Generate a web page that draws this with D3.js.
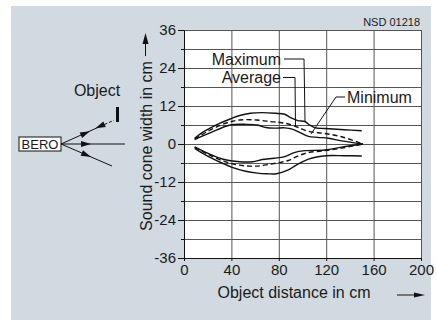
<!DOCTYPE html>
<html>
<head>
<meta charset="utf-8">
<script src="https://cdn.jsdelivr.net/npm/d3@7"></script>
<style>
  body { margin: 0; background: #fff; }
  svg text { font-family: Arial, "Liberation Sans", sans-serif; fill: #1a1a1a; }
</style>
</head>
<body>
<div id="chart"></div>
<script>
//DATA (distance in cm, cone half width in cm)
let maxUpper = [[9,1.8],[15,3.5],[22,5.0],[30,6.5],[39,7.9],[47,9.0],[56,9.7],[66,9.9],[77,9.7],[85,9.4],[90,8.3],[96,7.4],[102,7.1],[106,6.0],[111,5.1],[119,4.9],[135,4.5],[150,4.2]];
let avgUpper = [[9,1.6],[20,4.0],[30,5.8],[39,7.0],[47,7.6],[61,7.6],[72,7.1],[81,6.8],[88,6.3],[96,5.3],[105,4.0],[119,3.3],[133,2.3],[151,0]];
let minUpper = [[9,1.4],[22,3.5],[39,6.0],[53,6.2],[62,6.0],[69,5.2],[77,5.0],[85,5.1],[92,4.6],[99,3.4],[105,2.4],[113,2.1],[122,1.8],[133,1.0],[151,0]];
let maxLower = [[9,-1.4],[15,-2.8],[22,-4.2],[32,-6.0],[40,-7.3],[52,-8.6],[62,-9.2],[70,-9.4],[78,-9.4],[88,-8.2],[94,-6.8],[99,-5.8],[105,-4.8],[112,-4.1],[120,-3.7],[135,-3.7],[150,-3.8]];
let avgLower = [[9,-1.0],[20,-3.2],[33,-5.4],[45,-6.6],[56,-7.0],[64,-6.9],[72,-6.4],[80,-5.9],[88,-5.2],[96,-3.8],[105,-2.7],[119,-2.1],[133,-1.3],[151,0]];
let minLower = [[9,-0.9],[20,-2.9],[33,-4.8],[47,-5.6],[58,-5.6],[66,-4.9],[76,-4.5],[85,-4.0],[93,-2.7],[102,-2.1],[119,-1.9],[133,-1.0],[151,0]];

let xTicks = [0, 40, 80, 120, 160, 200];
let yTicks = [-36, -24, -12, 0, 12, 24, 36];
let yMinor = [-30, -18, -6, 6, 18, 30];

//GENERAL VARIABLES
let w = 437;
let h = 320;
let plotLeft = 184, plotRight = 421, plotTop = 30, plotBottom = 258;
let black = "#111";
let gridColor = "#555";

let svg = d3.select("#chart").append("svg")
    .attr("width", w)
    .attr("height", h);

//BACKGROUND PANEL
svg.append("rect")
    .attr("x", 11).attr("y", 6)
    .attr("width", 420).attr("height", 314)
    .attr("fill", "#d1dae0");

//SCALES
let x = d3.scaleLinear().domain([0, 200]).range([plotLeft, plotRight]);
let y = d3.scaleLinear().domain([-36, 36]).range([plotBottom, plotTop]);

//PLOT AREA
svg.append("rect")
    .attr("x", plotLeft).attr("y", plotTop)
    .attr("width", plotRight - plotLeft).attr("height", plotBottom - plotTop)
    .attr("fill", "#fff");

//GRID
svg.append("g")
    .attr("transform", "translate(" + plotLeft + ",0)")
    .call(d3.axisLeft(y).tickValues(yTicks.concat(yMinor)).tickSize(-(plotRight - plotLeft)).tickFormat(""))
    .call(g => g.select(".domain").remove())
    .call(g => g.selectAll("line").attr("stroke", gridColor).attr("stroke-width", 1));

svg.append("g")
    .attr("transform", "translate(0," + plotBottom + ")")
    .call(d3.axisBottom(x).tickValues(xTicks).tickSize(-(plotBottom - plotTop)).tickFormat(""))
    .call(g => g.select(".domain").remove())
    .call(g => g.selectAll("line").attr("stroke", gridColor).attr("stroke-width", 1));

//AXES (plain hyphen for negatives, like the original)
let yAxis = svg.append("g")
    .attr("transform", "translate(" + plotLeft + ",0)")
    .call(d3.axisLeft(y).tickValues(yTicks).tickSize(6).tickSizeOuter(0).tickPadding(2)
      .tickFormat(d => String(d)));
yAxis.select(".domain").attr("stroke", black);
yAxis.selectAll("line").attr("stroke", black);
yAxis.selectAll("text")
    .attr("font-size", 15)
    .attr("fill", "#1a1a1a");

svg.append("g")
    .attr("transform", "translate(" + plotLeft + ",0)")
    .call(d3.axisLeft(y).tickValues(yMinor).tickSize(3).tickFormat(""))
    .call(g => g.select(".domain").remove())
    .call(g => g.selectAll("line").attr("stroke", black));

let xAxis = svg.append("g")
    .attr("transform", "translate(0," + plotBottom + ")")
    .call(d3.axisBottom(x).tickValues(xTicks).tickSize(3).tickSizeOuter(0).tickPadding(3)
      .tickFormat(d => String(d)));
xAxis.select(".domain").attr("stroke", black);
xAxis.selectAll("line").attr("stroke", black);
xAxis.selectAll("text")
    .attr("font-size", 15)
    .attr("fill", "#1a1a1a");

//CURVES
let line = d3.line()
    .x(d => x(d[0]))
    .y(d => y(d[1]))
    .curve(d3.curveCatmullRom.alpha(0.5));

let curves = [
  {data: maxUpper, dash: null},
  {data: avgUpper, dash: "5,3"},
  {data: minUpper, dash: null},
  {data: maxLower, dash: null},
  {data: avgLower, dash: "5,3"},
  {data: minLower, dash: null}
];

svg.selectAll(".curve")
    .data(curves)
    .enter()
    .append("path")
    .attr("class", "curve")
    .attr("d", d => line(d.data))
    .attr("fill", "none")
    .attr("stroke", black)
    .attr("stroke-width", 1.4)
    .attr("stroke-dasharray", d => d.dash);

//ARROWHEAD HELPER
let arrowHead = function(px, py, angle, len, wid) {
  svg.append("path")
      .attr("d", "M0,0 L" + (-len) + "," + (-wid/2) + " L" + (-len) + "," + (wid/2) + " Z")
      .attr("transform", "translate(" + px + "," + py + ") rotate(" + angle + ")")
      .attr("fill", black);
};

let seg = function(x1, y1, x2, y2, dash) {
  svg.append("line")
      .attr("x1", x1).attr("y1", y1).attr("x2", x2).attr("y2", y2)
      .attr("stroke", black)
      .attr("stroke-width", 1)
      .attr("stroke-dasharray", dash || null);
};

//CURVE LABELS
svg.append("text").attr("x", 281).attr("y", 65).attr("text-anchor", "end")
    .attr("font-size", 16).text("Maximum");
svg.append("path")
    .attr("d", "M284,59 L304,59 L305,121")
    .attr("fill", "none").attr("stroke", black);

svg.append("text").attr("x", 281).attr("y", 83).attr("text-anchor", "end")
    .attr("font-size", 16).text("Average");
svg.append("path")
    .attr("d", "M283,77.5 L295,77.5 L295.5,126")
    .attr("fill", "none").attr("stroke", black);

svg.append("text").attr("x", 347).attr("y", 102.5)
    .attr("font-size", 16).text("Minimum");
svg.append("path")
    .attr("d", "M345,97 L336,97 L311,134")
    .attr("fill", "none").attr("stroke", black);

svg.append("text").attr("x", 420).attr("y", 26).attr("text-anchor", "end")
    .attr("font-size", 11).text("NSD 01218");

//AXIS TITLES
svg.append("text")
    .attr("x", 294).attr("y", 298)
    .attr("text-anchor", "middle")
    .attr("font-size", 16)
    .text("Object distance in cm");
seg(397, 295, 416, 295);
arrowHead(425, 295, 0, 11, 5);

svg.append("text")
    .attr("transform", "translate(152,146) rotate(-90)")
    .attr("text-anchor", "middle")
    .attr("font-size", 16)
    .text("Sound cone width in cm");
seg(145.5, 56, 145.5, 42);
arrowHead(145.5, 33, -90, 11, 6);

//SENSOR SKETCH
svg.append("rect")
    .attr("x", 19).attr("y", 137)
    .attr("width", 42).attr("height", 14)
    .attr("fill", "#fff")
    .attr("stroke", black);
svg.append("text")
    .attr("x", 40).attr("y", 149)
    .attr("text-anchor", "middle")
    .attr("font-size", 13)
    .text("BERO");

svg.append("text")
    .attr("x", 97).attr("y", 96)
    .attr("text-anchor", "middle")
    .attr("font-size", 16)
    .text("Object");
svg.append("rect")
    .attr("x", 116).attr("y", 107)
    .attr("width", 3).attr("height", 15)
    .attr("fill", black);

// beams
let upAng = Math.atan2(-23, 52) * 180 / Math.PI;
let lowAng = Math.atan2(22, 51) * 180 / Math.PI;
seg(61, 144, 104.5, 124.5);
seg(104.5, 124.5, 114, 120.3, "3,2");
arrowHead(90, 131.2, upAng, 10, 6);
arrowHead(95.4, 128.3, upAng + 180, 10, 6);
seg(61, 144, 125, 144);
arrowHead(91, 144, 0, 10, 6);
seg(61, 144, 112, 166);
arrowHead(91, 156.9, lowAng, 10, 6);
</script>
</body>
</html>
